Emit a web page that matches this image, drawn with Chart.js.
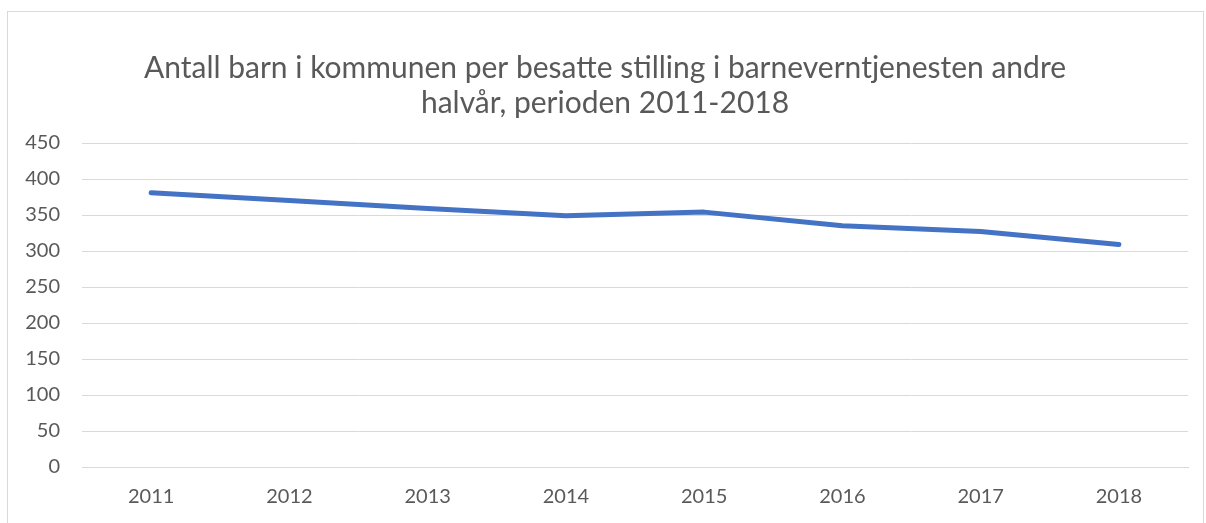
<!DOCTYPE html>
<html>
<head>
<meta charset="utf-8">
<script src="https://cdn.jsdelivr.net/npm/chart.js@4.4.0/dist/chart.umd.min.js"></script>
<style>
  html, body { margin: 0; padding: 0; background: #fff; overflow: hidden; }
  #frame { position: absolute; left: 7px; top: 11px; width: 1195px; height: 530px; border: 1px solid #d9d9d9; }
  #myLineChart { position: absolute; left: 0; top: 0; }
</style>
</head>
<body>
<div id="frame"></div>
<canvas id="myLineChart" width="1206" height="523"></canvas>
<script>
//---x-axis
var years = [ '2011', '2012', '2013', '2014', '2015', '2016', '2017', '2018' ]

//---y-axis
var yTicks = [ 0, 50, 100, 150, 200, 250, 300, 350, 400, 450 ]

//---data
var barnPerStilling = [ 381, 370, 359, 349, 354, 335, 327, 309 ]

var titleLines = [ 'Antall barn i kommunen per besatte stilling i barneverntjenesten andre', 'halvår, perioden 2011-2018' ]

var ctx = document.getElementById("myLineChart");

var data = {
  labels: years,
  datasets: [{
    label: 'Barn per stilling',
    data: barnPerStilling,
    borderColor: '#4472C4',
    backgroundColor: '#4472C4',
    borderWidth: 5,
    borderCapStyle: 'round',
    borderJoinStyle: 'round',
    pointRadius: 0,
    tension: 0
  }]
};

var options = {
  responsive: false,
  animation: false,
  layout: { padding: { left: 22, right: 18, top: 32, bottom: 0 } },
  plugins: {
    legend: { display: false },
    tooltip: { enabled: false },
    title: {
      display: true,
      text: titleLines,
      color: '#595959',
      font: { family: 'Lato', size: 30, weight: 'normal', lineHeight: 1.1667 },
      padding: { top: 18.5, bottom: 22.5 }
    }
  },
  scales: {
    x: {
      offset: true,
      afterFit: function (axis) { axis.height = 56; },
      grid: { display: false, drawTicks: false },
      border: { display: true, color: '#d9d9d9', width: 1 },
      ticks: { color: '#595959', font: { family: 'Lato', size: 20 }, padding: 18 }
    },
    y: {
      min: yTicks[0],
      max: yTicks[yTicks.length - 1],
      afterBuildTicks: function (axis) { axis.ticks = yTicks.map(function (v) { return { value: v }; }); },
      afterFit: function (axis) { axis.width = 60; },
      grid: { color: '#d9d9d9', lineWidth: 1, drawTicks: false },
      border: { display: false },
      ticks: { color: '#595959', font: { family: 'Lato', size: 20 }, padding: 22 }
    }
  }
};

var myLineChart = new Chart(ctx, {
  type: 'line',
  data: data,
  options: options
});
</script>
</body>
</html>
